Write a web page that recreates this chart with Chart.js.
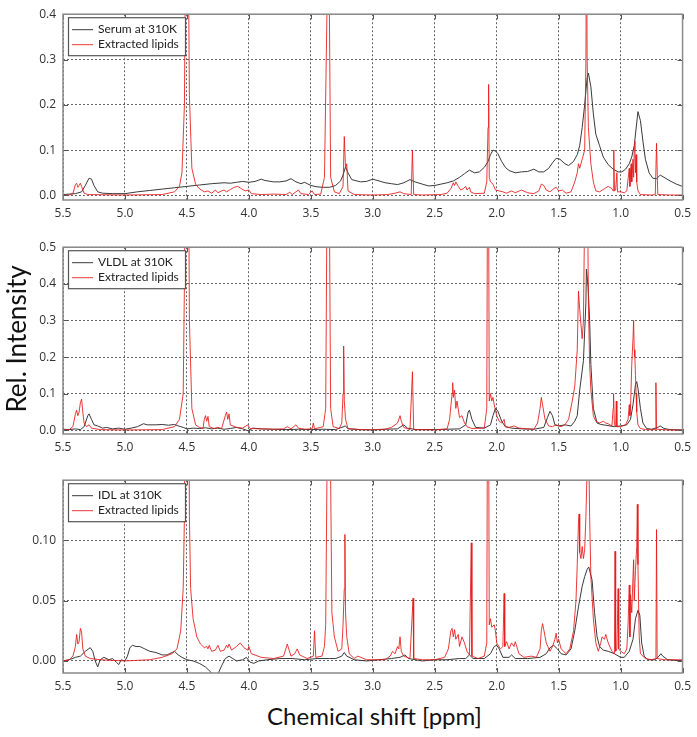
<!DOCTYPE html>
<html>
<head>
<meta charset="utf-8">
<script src="https://cdn.jsdelivr.net/npm/chart.js@4"></script>
<style>
  body { margin: 0; background: #fff; }
  #wrap { position: relative; width: 697px; height: 737px; overflow: hidden; }
  canvas { position: absolute; left: 0; }
  .ytitle { position: absolute; left: -134px; top: 323px; width: 300px; text-align: center;
            font: 26px Lato, sans-serif; color: #111; line-height: 32px; transform: rotate(-90deg); }
  .xtitle { position: absolute; left: 63px; top: 701px; width: 623px; text-align: center;
            font: 24px Lato, sans-serif; color: #111; line-height: 30px; }
</style>
</head>
<body>
<div id="wrap">
  <canvas id="c1" width="697" height="228" style="top:0px"></canvas>
  <canvas id="c2" width="697" height="229" style="top:233px"></canvas>
  <canvas id="c3" width="697" height="235" style="top:466px"></canvas>
  <div class="ytitle">Rel. Intensity</div>
  <div class="xtitle">Chemical shift [ppm]</div>
</div>
<script>
// x axis ticks (ppm), shared by all panels
var xTicks = [5.5, 5.0, 4.5, 4.0, 3.5, 3.0, 2.5, 2.0, 1.5, 1.0, 0.5];

// panel 1 - serum
var serumPpm = [5.50,5.45,5.40,5.35,5.32,5.29,5.27,5.25,5.22,5.18,5.10,5.00,4.90,4.80,4.70,4.60,4.50,4.40,4.30,4.20,4.15,4.10,4.05,4.00,3.95,3.90,3.87,3.80,3.75,3.70,3.66,3.62,3.58,3.55,3.50,3.45,3.40,3.35,3.30,3.26,3.24,3.22,3.20,3.17,3.10,3.05,3.00,2.95,2.90,2.85,2.80,2.75,2.70,2.66,2.60,2.55,2.50,2.45,2.40,2.35,2.30,2.26,2.22,2.18,2.14,2.10,2.07,2.05,2.03,2.01,1.99,1.96,1.93,1.90,1.85,1.80,1.75,1.70,1.66,1.62,1.58,1.55,1.52,1.49,1.45,1.42,1.38,1.35,1.33,1.31,1.29,1.27,1.26,1.24,1.22,1.20,1.17,1.14,1.10,1.06,1.02,0.99,0.96,0.93,0.91,0.89,0.87,0.86,0.84,0.82,0.80,0.77,0.74,0.71,0.68,0.65,0.60,0.55,0.50];
var serumInt = [0.002,0.003,0.004,0.008,0.022,0.038,0.036,0.022,0.008,0.005,0.004,0.004,0.008,0.011,0.014,0.017,0.020,0.023,0.026,0.028,0.027,0.029,0.031,0.029,0.031,0.036,0.033,0.030,0.030,0.032,0.037,0.030,0.026,0.029,0.022,0.019,0.018,0.018,0.022,0.032,0.045,0.063,0.050,0.035,0.030,0.031,0.036,0.032,0.028,0.026,0.024,0.028,0.035,0.030,0.025,0.021,0.022,0.025,0.028,0.032,0.040,0.048,0.056,0.050,0.052,0.062,0.075,0.090,0.100,0.098,0.092,0.075,0.062,0.055,0.050,0.052,0.053,0.058,0.052,0.052,0.060,0.072,0.082,0.080,0.070,0.066,0.075,0.090,0.110,0.150,0.200,0.260,0.270,0.240,0.180,0.135,0.110,0.085,0.068,0.058,0.052,0.052,0.058,0.070,0.085,0.110,0.160,0.185,0.165,0.120,0.080,0.050,0.038,0.037,0.045,0.040,0.032,0.025,0.020];
var lipids1Ppm = [5.50,5.45,5.42,5.40,5.39,5.38,5.37,5.36,5.35,5.33,5.30,5.00,4.70,4.60,4.56,4.54,4.52,4.51,4.50,4.49,4.48,4.46,4.43,4.40,4.36,4.33,4.30,4.27,4.25,4.22,4.20,4.18,4.15,4.12,4.09,4.06,4.03,4.00,3.98,3.90,3.80,3.70,3.67,3.65,3.60,3.58,3.52,3.49,3.47,3.42,3.39,3.37,3.36,3.35,3.34,3.31,3.27,3.24,3.23,3.22,3.21,3.20,3.15,3.00,2.88,2.82,2.78,2.75,2.69,2.68,2.67,2.60,2.45,2.40,2.37,2.35,2.34,2.33,2.31,2.29,2.27,2.25,2.24,2.22,2.21,2.18,2.10,2.08,2.07,2.065,2.06,2.05,2.03,2.01,1.98,1.95,1.92,1.88,1.85,1.80,1.75,1.70,1.66,1.64,1.62,1.60,1.57,1.54,1.52,1.50,1.47,1.44,1.40,1.37,1.35,1.34,1.33,1.31,1.29,1.28,1.275,1.27,1.26,1.24,1.22,1.20,1.17,1.13,1.10,1.07,1.06,1.055,1.05,1.04,1.03,1.025,1.00,0.97,0.95,0.93,0.925,0.915,0.91,0.90,0.895,0.89,0.885,0.88,0.875,0.87,0.86,0.84,0.75,0.72,0.71,0.70,0.60,0.50];
var lipids1Int = [0.000,0.001,0.004,0.024,0.027,0.018,0.022,0.027,0.020,0.005,0.002,0.001,0.002,0.008,0.020,0.050,0.200,0.600,1.200,0.600,0.220,0.060,0.025,0.015,0.008,0.010,0.005,0.012,0.006,0.010,0.012,0.008,0.013,0.018,0.020,0.015,0.010,0.012,0.004,0.002,0.003,0.002,0.007,0.002,0.012,0.004,0.002,0.010,0.002,0.003,0.040,0.400,1.200,0.400,0.040,0.008,0.004,0.020,0.130,0.060,0.070,0.010,0.002,0.001,0.002,0.005,0.008,0.004,0.002,0.100,0.002,0.001,0.002,0.005,0.015,0.028,0.022,0.030,0.020,0.012,0.015,0.020,0.012,0.018,0.008,0.004,0.005,0.030,0.150,0.245,0.040,0.030,0.025,0.012,0.010,0.008,0.005,0.010,0.006,0.012,0.006,0.004,0.010,0.025,0.022,0.012,0.008,0.015,0.018,0.010,0.012,0.005,0.008,0.030,0.050,0.070,0.060,0.080,0.100,0.300,0.600,0.300,0.150,0.070,0.030,0.010,0.008,0.015,0.020,0.015,0.010,0.100,0.010,0.012,0.050,0.008,0.008,0.006,0.010,0.060,0.020,0.070,0.030,0.080,0.040,0.100,0.120,0.050,0.090,0.030,0.010,0.002,0.001,0.002,0.115,0.002,0.001,0.001];

// panel 2 - VLDL
var vldlPpm = [5.50,5.45,5.40,5.36,5.33,5.30,5.29,5.27,5.25,5.22,5.18,5.15,5.10,5.05,5.00,4.95,4.90,4.85,4.82,4.75,4.70,4.65,4.60,4.57,4.53,4.50,4.45,4.40,4.35,4.30,4.25,4.20,4.15,4.10,4.05,4.00,3.97,3.90,3.80,3.70,3.60,3.50,3.40,3.30,3.22,3.20,3.10,3.00,2.90,2.80,2.75,2.72,2.65,2.50,2.40,2.30,2.25,2.23,2.22,2.20,2.17,2.10,2.05,2.03,2.01,1.99,1.96,1.93,1.88,1.80,1.70,1.62,1.59,1.57,1.55,1.53,1.50,1.45,1.40,1.37,1.35,1.33,1.30,1.28,1.276,1.262,1.25,1.24,1.22,1.19,1.16,1.12,1.05,1.00,0.95,0.92,0.90,0.88,0.87,0.86,0.84,0.82,0.79,0.75,0.70,0.68,0.65,0.60,0.50];
var vldlInt = [0.003,0.002,0.004,0.002,0.010,0.040,0.045,0.030,0.015,0.012,0.006,0.008,0.004,0.006,0.003,0.006,0.010,0.018,0.015,0.015,0.016,0.014,0.016,0.012,0.008,0.004,0.006,0.005,0.007,0.004,0.006,0.003,0.005,0.008,0.004,-0.002,0.006,0.004,0.003,0.002,0.003,0.002,0.003,0.002,0.012,0.004,0.002,0.001,0.003,0.004,0.015,0.006,0.002,0.002,0.003,0.004,0.015,0.050,0.055,0.030,0.008,0.006,0.015,0.040,0.060,0.052,0.025,0.010,0.006,0.004,0.003,0.008,0.035,0.052,0.040,0.015,0.012,0.015,0.012,0.025,0.040,0.110,0.190,0.350,0.440,0.390,0.300,0.180,0.060,0.020,0.016,0.014,0.010,0.012,0.015,0.030,0.070,0.125,0.133,0.115,0.060,0.020,0.005,0.003,0.008,0.012,0.005,0.002,0.001];
var lipids2Ppm = [5.50,5.45,5.42,5.40,5.39,5.38,5.37,5.36,5.35,5.34,5.33,5.31,5.29,5.27,5.20,5.00,4.70,4.60,4.56,4.53,4.52,4.51,4.50,4.49,4.48,4.46,4.43,4.40,4.37,4.36,4.35,4.34,4.33,4.32,4.28,4.25,4.22,4.19,4.18,4.17,4.16,4.15,4.10,4.05,4.01,3.99,3.90,3.80,3.72,3.69,3.66,3.62,3.60,3.55,3.49,3.48,3.47,3.40,3.38,3.37,3.36,3.35,3.34,3.32,3.27,3.25,3.24,3.235,3.23,3.22,3.20,3.10,3.00,2.90,2.85,2.82,2.80,2.78,2.77,2.75,2.70,2.68,2.67,2.60,2.50,2.40,2.38,2.36,2.355,2.35,2.34,2.33,2.32,2.30,2.28,2.26,2.24,2.20,2.10,2.08,2.075,2.07,2.065,2.06,2.05,2.04,2.03,2.02,2.00,1.98,1.96,1.94,1.93,1.90,1.86,1.82,1.75,1.70,1.67,1.65,1.64,1.63,1.61,1.58,1.55,1.52,1.48,1.45,1.42,1.39,1.37,1.35,1.34,1.33,1.31,1.30,1.29,1.28,1.27,1.26,1.25,1.24,1.22,1.20,1.17,1.14,1.12,1.10,1.07,1.06,1.057,1.05,1.04,1.035,1.03,1.00,0.96,0.94,0.93,0.925,0.92,0.91,0.90,0.895,0.89,0.885,0.88,0.875,0.87,0.86,0.84,0.80,0.72,0.715,0.71,0.60,0.50];
var lipids2Int = [0.000,0.002,0.010,0.045,0.055,0.040,0.050,0.075,0.085,0.050,0.020,0.010,0.015,0.006,0.002,0.001,0.002,0.010,0.030,0.100,0.400,1.000,1.500,1.000,0.300,0.060,0.015,0.008,0.005,0.030,0.040,0.025,0.038,0.010,0.005,0.008,0.005,0.040,0.050,0.030,0.045,0.015,0.008,0.006,0.015,0.005,0.004,0.003,0.004,0.010,0.004,0.015,0.006,0.003,0.004,0.020,0.004,0.010,0.060,0.600,1.200,0.600,0.060,0.010,0.005,0.020,0.100,0.230,0.080,0.030,0.005,0.002,0.002,0.003,0.008,0.015,0.020,0.040,0.025,0.008,0.002,0.160,0.002,0.002,0.001,0.004,0.030,0.100,0.130,0.090,0.110,0.060,0.080,0.035,0.040,0.020,0.010,0.005,0.006,0.060,0.600,1.200,0.600,0.080,0.100,0.080,0.090,0.070,0.040,0.025,0.020,0.030,0.010,0.008,0.012,0.006,0.004,0.003,0.020,0.060,0.090,0.070,0.030,0.012,0.010,0.015,0.010,0.015,0.030,0.080,0.120,0.220,0.380,0.330,0.250,0.300,0.600,1.000,0.800,0.350,0.180,0.110,0.040,0.025,0.020,0.025,0.020,0.018,0.012,0.060,0.100,0.015,0.010,0.080,0.010,0.010,0.015,0.030,0.070,0.040,0.060,0.180,0.250,0.300,0.220,0.200,0.150,0.100,0.050,0.015,0.005,0.002,0.002,0.130,0.003,0.001,0.001];

// panel 3 - IDL
var idlPpm = [5.50,5.45,5.40,5.36,5.32,5.28,5.26,5.24,5.22,5.20,5.17,5.13,5.10,5.07,5.05,5.03,5.00,4.98,4.96,4.94,4.91,4.88,4.84,4.80,4.75,4.70,4.66,4.62,4.60,4.57,4.54,4.50,4.45,4.40,4.35,4.31,4.28,4.25,4.22,4.19,4.16,4.13,4.10,4.05,4.02,3.99,3.96,3.92,3.85,3.75,3.65,3.55,3.45,3.35,3.30,3.25,3.23,3.21,3.15,3.05,2.95,2.85,2.78,2.74,2.71,2.60,2.50,2.40,2.30,2.25,2.22,2.19,2.10,2.05,2.02,2.00,1.98,1.95,1.90,1.88,1.85,1.75,1.65,1.60,1.57,1.54,1.51,1.48,1.44,1.40,1.37,1.34,1.31,1.29,1.27,1.257,1.23,1.21,1.19,1.17,1.14,1.10,1.05,1.00,0.97,0.93,0.90,0.88,0.86,0.845,0.83,0.81,0.78,0.72,0.69,0.675,0.66,0.62,0.50];
var idlInt = [0.000,0.001,0.003,0.004,0.008,0.011,0.008,0.000,-0.005,0.001,0.003,0.001,0.002,-0.001,-0.003,0.001,0.000,0.004,0.011,0.013,0.012,0.012,0.010,0.008,0.007,0.005,0.005,0.007,0.008,0.005,0.003,0.001,0.000,-0.002,-0.005,-0.009,-0.012,-0.011,-0.004,0.002,0.004,0.002,0.000,0.001,0.003,-0.001,-0.002,0.000,0.001,0.002,0.002,0.001,0.002,0.002,0.002,0.004,0.007,0.004,0.001,0.000,0.001,0.002,0.003,0.005,0.002,0.000,0.001,0.001,0.002,0.002,0.005,0.002,0.002,0.006,0.012,0.013,0.010,0.003,0.003,0.005,0.002,0.002,0.003,0.006,0.011,0.013,0.010,0.006,0.005,0.010,0.025,0.045,0.062,0.070,0.076,0.078,0.067,0.040,0.020,0.012,0.009,0.008,0.006,0.003,0.003,0.008,0.018,0.035,0.042,0.038,0.015,0.004,0.001,0.001,0.004,0.006,0.004,0.001,0.000];
var lipids3Ppm = [5.50,5.45,5.42,5.40,5.39,5.38,5.37,5.36,5.35,5.34,5.32,5.28,5.20,5.00,4.80,4.70,4.62,4.58,4.55,4.53,4.52,4.51,4.50,4.49,4.48,4.47,4.45,4.42,4.39,4.36,4.34,4.33,4.32,4.30,4.27,4.25,4.23,4.20,4.18,4.17,4.16,4.14,4.10,4.07,4.04,4.01,4.00,3.98,3.90,3.80,3.72,3.69,3.66,3.63,3.61,3.59,3.53,3.48,3.47,3.46,3.41,3.39,3.38,3.37,3.36,3.35,3.34,3.33,3.31,3.28,3.25,3.24,3.23,3.225,3.22,3.21,3.19,3.15,3.12,3.05,2.90,2.86,2.84,2.82,2.80,2.79,2.78,2.77,2.75,2.70,2.675,2.67,2.60,2.50,2.42,2.39,2.37,2.36,2.35,2.34,2.33,2.31,2.30,2.28,2.26,2.24,2.22,2.205,2.20,2.15,2.10,2.08,2.075,2.07,2.065,2.06,2.05,2.04,2.02,2.01,2.00,1.97,1.95,1.94,1.935,1.92,1.90,1.88,1.86,1.85,1.82,1.78,1.72,1.68,1.65,1.64,1.63,1.62,1.60,1.57,1.55,1.53,1.52,1.51,1.50,1.48,1.44,1.41,1.38,1.36,1.35,1.34,1.335,1.33,1.32,1.31,1.30,1.29,1.28,1.27,1.26,1.25,1.24,1.22,1.20,1.18,1.16,1.15,1.13,1.12,1.10,1.07,1.05,1.045,1.04,1.03,1.02,1.015,1.00,0.97,0.95,0.94,0.93,0.925,0.92,0.91,0.90,0.895,0.89,0.88,0.87,0.865,0.86,0.855,0.85,0.84,0.80,0.75,0.715,0.71,0.705,0.65,0.60,0.50];
var lipids3Int = [0.000,0.001,0.004,0.012,0.022,0.014,0.016,0.027,0.024,0.010,0.004,0.002,0.001,0.000,0.001,0.003,0.006,0.010,0.025,0.060,0.120,0.400,1.000,0.400,0.120,0.060,0.035,0.020,0.014,0.011,0.012,0.010,0.013,0.008,0.009,0.013,0.008,0.009,0.013,0.011,0.014,0.009,0.012,0.015,0.011,0.009,0.012,0.006,0.003,0.002,0.004,0.014,0.004,0.006,0.010,0.005,0.002,0.004,0.025,0.003,0.004,0.012,0.030,0.150,0.800,0.800,0.150,0.040,0.020,0.008,0.010,0.030,0.060,0.105,0.040,0.020,0.006,0.002,0.004,0.001,0.001,0.004,0.008,0.006,0.012,0.010,0.020,0.008,0.004,0.002,0.052,0.002,0.001,0.001,0.003,0.010,0.025,0.027,0.020,0.026,0.018,0.022,0.012,0.020,0.015,0.008,0.005,0.098,0.004,0.002,0.004,0.015,0.200,0.400,0.200,0.030,0.035,0.028,0.030,0.025,0.015,0.010,0.012,0.056,0.012,0.016,0.010,0.015,0.012,0.016,0.006,0.003,0.004,0.003,0.010,0.025,0.031,0.026,0.015,0.008,0.012,0.018,0.023,0.015,0.018,0.010,0.006,0.010,0.025,0.050,0.080,0.115,0.122,0.090,0.085,0.095,0.085,0.092,0.120,0.160,0.200,0.120,0.070,0.035,0.015,0.008,0.015,0.020,0.018,0.022,0.015,0.008,0.006,0.091,0.008,0.010,0.060,0.010,0.008,0.006,0.010,0.030,0.063,0.020,0.055,0.040,0.070,0.084,0.050,0.075,0.095,0.130,0.080,0.050,0.020,0.006,0.002,0.001,0.002,0.109,0.002,0.001,0.001,0.001];

var BLACK = '#3a3a3a';
var RED = 'rgba(232,24,24,0.85)';

function pts(xs, ys) {
    return xs.map(function(x, i) { return {x: x, y: ys[i]}; });
}

// frame, inner tick marks and boxed legend drawn over the plot
var framePlugin = {
    id: 'frame',
    afterDraw: function(chart) {
        var ctx = chart.ctx, a = chart.chartArea;
        var xs = chart.scales.x, ys = chart.scales.y;
        ctx.save();
        ctx.strokeStyle = '#555';
        ctx.lineWidth = 1;
        ctx.beginPath();
        xs.ticks.forEach(function(t) {
            var px = Math.round(xs.getPixelForValue(t.value)) + 0.5;
            ctx.moveTo(px, a.bottom); ctx.lineTo(px, a.bottom - 5);
            ctx.moveTo(px, a.top); ctx.lineTo(px, a.top + 5);
        });
        ys.ticks.forEach(function(t) {
            var py = Math.round(ys.getPixelForValue(t.value)) + 0.5;
            ctx.moveTo(a.left, py); ctx.lineTo(a.left + 5, py);
            ctx.moveTo(a.right, py); ctx.lineTo(a.right - 5, py);
        });
        ctx.stroke();
        ctx.strokeStyle = '#8a8a8a';
        ctx.lineWidth = 1.5;
        ctx.strokeRect(a.left, a.top, a.right - a.left, a.bottom - a.top);

        // legend box
        var bx = a.left + 5, by = a.top + 3, bw = 117, bh = 38;
        ctx.fillStyle = '#fff';
        ctx.fillRect(bx, by, bw, bh);
        ctx.strokeStyle = '#555';
        ctx.lineWidth = 1.2;
        ctx.strokeRect(bx + 0.5, by + 0.5, bw, bh);
        ctx.font = '12px Lato, sans-serif';
        ctx.textBaseline = 'middle';
        chart.data.datasets.forEach(function(ds, i) {
            var ly = by + 12 + i * 15;
            ctx.strokeStyle = ds.borderColor;
            ctx.lineWidth = 1;
            ctx.beginPath();
            ctx.moveTo(bx + 4, ly + 0.5); ctx.lineTo(bx + 25, ly + 0.5);
            ctx.stroke();
            ctx.fillStyle = '#222';
            ctx.fillText(ds.label, bx + 30, ly);
        });
        ctx.restore();
    }
};

function makePanel(id, label, blackPts, redPts, yMin, yMax, yTicks, decimals) {
    var ctx = document.getElementById(id).getContext('2d');
    return new Chart(ctx, {
        type: 'line',
        data: {
            datasets: [{
                label: label,
                data: blackPts,
                borderColor: BLACK,
                borderWidth: 1,
                pointRadius: 0,
                order: 2
            }, {
                label: 'Extracted lipids',
                data: redPts,
                borderColor: RED,
                borderWidth: 1,
                pointRadius: 0,
                order: 1
            }]
        },
        options: {
            responsive: false,
            animation: false,
            parsing: false,
            layout: { padding: { top: 5, right: 11, left: 0, bottom: 0 } },
            plugins: { legend: { display: false }, tooltip: { enabled: false } },
            scales: {
                x: {
                    type: 'linear',
                    reverse: true,
                    min: 0.5,
                    max: 5.5,
                    afterBuildTicks: function(s) { s.ticks = xTicks.map(function(v) { return {value: v}; }); },
                    afterFit: function(s) { s.height = 28; },
                    grid: { color: '#666', lineWidth: 1, drawTicks: false },
                    border: { display: false, dash: [2, 2] },
                    ticks: {
                        autoSkip: false, maxRotation: 0, padding: 6, color: '#333',
                        font: { family: 'Open Sans', size: 12 },
                        callback: function(v) { return v.toFixed(1); }
                    }
                },
                y: {
                    min: yMin,
                    max: yMax,
                    afterBuildTicks: function(s) { s.ticks = yTicks.map(function(v) { return {value: v}; }); },
                    afterFit: function(s) { s.width = 63; },
                    grid: { color: '#666', lineWidth: 1, drawTicks: false },
                    border: { display: false, dash: [2, 2] },
                    ticks: {
                        padding: 7, color: '#333',
                        font: { family: 'Open Sans', size: 12 },
                        callback: function(v) { return v.toFixed(decimals); }
                    }
                }
            }
        },
        plugins: [framePlugin]
    });
}

makePanel('c1', 'Serum at 310K', pts(serumPpm, serumInt), pts(lipids1Ppm, lipids1Int),
    -0.01, 0.4, [0, 0.1, 0.2, 0.3, 0.4], 1);
makePanel('c2', 'VLDL at 310K', pts(vldlPpm, vldlInt), pts(lipids2Ppm, lipids2Int),
    -0.01, 0.5, [0, 0.1, 0.2, 0.3, 0.4, 0.5], 1);
makePanel('c3', 'IDL at 310K', pts(idlPpm, idlInt), pts(lipids3Ppm, lipids3Int),
    -0.01, 0.15, [0, 0.05, 0.10], 2);
</script>
</body>
</html>
